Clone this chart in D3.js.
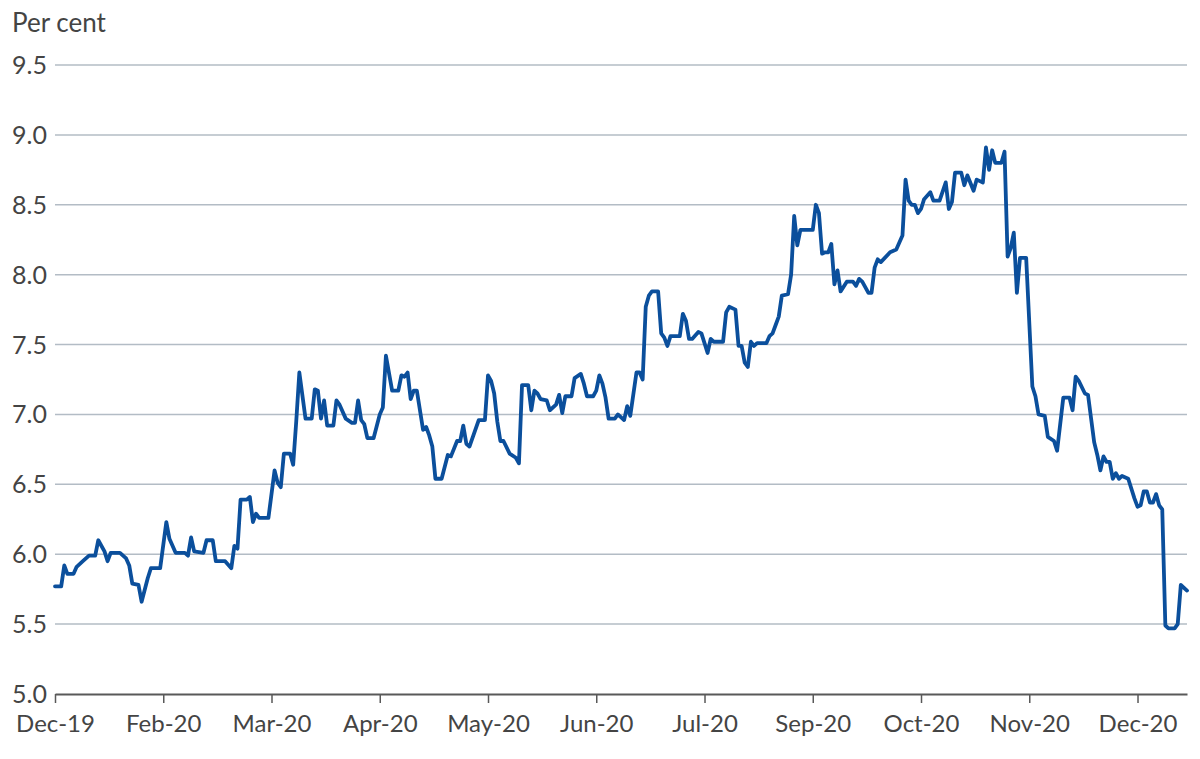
<!DOCTYPE html>
<meta charset="utf-8">
<script src="https://d3js.org/d3.v7.min.js"></script>
<style>
  body { margin: 0; background: #fff; }
  text { font-family: Lato, "Open Sans", sans-serif; fill: #444; }
</style>
<div id="chart"></div>
<script>
// daily series, day offsets from 31 Dec 2019
var days = [0,2,3,4,6,7,9,11,13,14,16,17,18,21,23,24,25,27,28,30,31,34,36,37,39,42,43,44,45,48,49,51,52,55,57,58,59,
  60,62,63,64,65,66,69,71,72,73,74,76,77,78,79,81,83,84,85,86,87,88,90,91,92,94,96,97,98,99,100,101,103,105,106,107,109,
  111,112,113,114,115,116,117,119,120,121,122,123,125,127,128,130,131,132,133,134,137,139,140,141,142,143,144,145,147,149,
  150,151,153,154,155,156,157,159,160,162,163,164,165,167,168,170,171,172,174,175,176,177,178,179,181,182,184,185,186,188,
  189,190,191,192,193,195,196,197,198,199,202,203,204,205,206,208,209,211,212,213,216,217,218,220,221,222,223,224,225,226,
  227,230,231,232,233,234,235,237,238,239,240,241,245,246,247,248,249,250,251,252,253,254,256,258,259,260,261,263,264,265,
  266,267,270,272,274,275,276,277,278,279,280,281,283,284,286,288,289,290,291,293,294,295,297,298,300,301,302,303,304,306,
  307,308,309,310,311,312,314,316,317,318,320,321,323,324,326,328,329,330,331,333,334,336,337,338,339,340,341,342,343,344,
  345,347,349,350,351,352,353,354,355,356,357,358,359,360,362,363,364,366];
var rates = [5.77,5.77,5.92,5.86,5.86,5.91,5.95,5.99,5.99,6.10,6.02,5.95,6.01,6.01,5.97,5.92,5.79,5.78,5.66,5.83,5.90,5.90,6.23,6.11,6.01,6.01,5.99,6.12,6.02,6.01,6.10,6.10,5.95,5.95,5.90,6.06,6.04,
  6.39,6.39,6.41,6.23,6.29,6.26,6.26,6.60,6.51,6.48,6.72,6.72,6.64,6.95,7.30,6.97,6.97,7.18,7.17,6.97,7.10,6.92,6.92,7.10,7.07,6.97,6.94,6.94,7.10,6.96,6.93,6.83,6.83,7.00,7.05,7.42,7.17,
  7.17,7.28,7.27,7.30,7.11,7.17,7.17,6.89,6.91,6.85,6.77,6.54,6.54,6.71,6.70,6.81,6.81,6.92,6.79,6.77,6.96,6.96,7.28,7.24,7.15,6.95,6.81,6.81,6.72,6.69,
  6.65,7.21,7.21,7.03,7.17,7.15,7.11,7.10,7.03,7.07,7.14,7.01,7.13,7.13,7.26,7.29,7.22,7.13,7.13,7.17,7.28,7.22,7.12,6.97,6.97,7.00,6.96,7.06,6.99,7.30,
  7.30,7.25,7.77,7.85,7.88,7.88,7.58,7.55,7.49,7.56,7.56,7.72,7.67,7.54,7.54,7.59,7.58,7.44,7.54,7.52,7.52,7.73,7.77,7.75,7.49,7.49,7.37,7.34,7.52,7.49,
  7.51,7.51,7.56,7.58,7.64,7.70,7.85,7.86,8.00,8.42,8.21,8.32,8.32,8.50,8.44,8.15,8.16,8.16,8.22,7.93,8.03,7.88,7.95,7.95,7.92,7.97,7.95,7.87,7.87,8.05,
  8.11,8.09,8.16,8.18,8.28,8.68,8.53,8.50,8.50,8.44,8.47,8.54,8.59,8.53,8.53,8.66,8.47,8.52,8.73,8.73,8.64,8.71,8.60,8.68,8.66,8.91,8.75,8.89,8.80,8.80,
  8.88,8.13,8.19,8.30,7.87,8.12,8.12,7.20,7.13,7.00,6.99,6.84,6.81,6.74,7.12,7.12,7.03,7.27,7.24,7.15,7.14,6.80,6.71,6.60,6.70,6.66,6.66,6.54,6.58,6.54,
  6.56,6.54,6.40,6.34,6.35,6.45,6.45,6.37,6.37,6.43,6.35,6.32,5.49,5.47,5.47,5.50,5.78,5.74];

var tickDays = [0, 35, 70, 105, 140, 175, 210, 245, 280, 315, 350];
var tickLabels = ["Dec-19", "Feb-20", "Mar-20", "Apr-20", "May-20", "Jun-20", "Jul-20", "Sep-20", "Oct-20", "Nov-20", "Dec-20"];
var yTicks = [5.0, 5.5, 6.0, 6.5, 7.0, 7.5, 8.0, 8.5, 9.0, 9.5];

var width = 1200, height = 759;
var start = new Date(2019, 11, 31);
var end = d3.timeDay.offset(start, 366);

var svg = d3.select("#chart").append("svg")
  .attr("width", width)
  .attr("height", height);

var x = d3.scaleTime().domain([start, end]).range([55, 1187]);
var y = d3.scaleLinear().domain([5, 9.5]).range([694, 65]);

// gridlines
svg.append("g")
  .selectAll("line")
  .data(yTicks.slice(1))
  .enter().append("line")
  .attr("x1", 55).attr("x2", 1187)
  .attr("y1", function(d) { return y(d); })
  .attr("y2", function(d) { return y(d); })
  .attr("stroke", "#b3bcc5")
  .attr("stroke-width", 1.5);

// y labels
svg.append("g")
  .selectAll("text")
  .data(yTicks)
  .enter().append("text")
  .attr("x", 47)
  .attr("y", function(d) { return y(d); })
  .attr("dy", "0.36em")
  .attr("text-anchor", "end")
  .style("font-size", "25px")
  .text(function(d) { return d.toFixed(1); });

svg.append("text")
  .attr("x", 12).attr("y", 32)
  .style("font-size", "26px")
  .text("Per cent");

// x axis
var tickDates = tickDays.map(function(d) { return d3.timeDay.offset(start, d); });
var xAxis = svg.append("g")
  .attr("transform", "translate(0," + y(5) + ")")
  .call(d3.axisBottom(x)
    .tickValues(tickDates)
    .tickFormat(function(d, i) { return tickLabels[i]; })
    .tickSize(9)
    .tickPadding(12)
    .tickSizeOuter(0));
xAxis.select(".domain").attr("stroke", "#595959").attr("stroke-width", 2);
xAxis.selectAll(".tick line").attr("stroke", "#595959").attr("stroke-width", 1.5);
xAxis.selectAll(".tick text")
  .style("font-size", "24px")
  .style("font-family", "Lato, 'Open Sans', sans-serif")
  .attr("fill", "#444");

// the line
var series = days.map(function(d, i) { return { date: d3.timeDay.offset(start, d), v: rates[i] }; });
var line = d3.line()
  .x(function(d) { return x(d.date); })
  .y(function(d) { return y(d.v); });

svg.append("path")
  .datum(series)
  .attr("d", line)
  .attr("fill", "none")
  .attr("stroke", "#0b4f9c")
  .attr("stroke-width", 3.8)
  .attr("stroke-linejoin", "round")
  .attr("stroke-linecap", "round");
</script>
